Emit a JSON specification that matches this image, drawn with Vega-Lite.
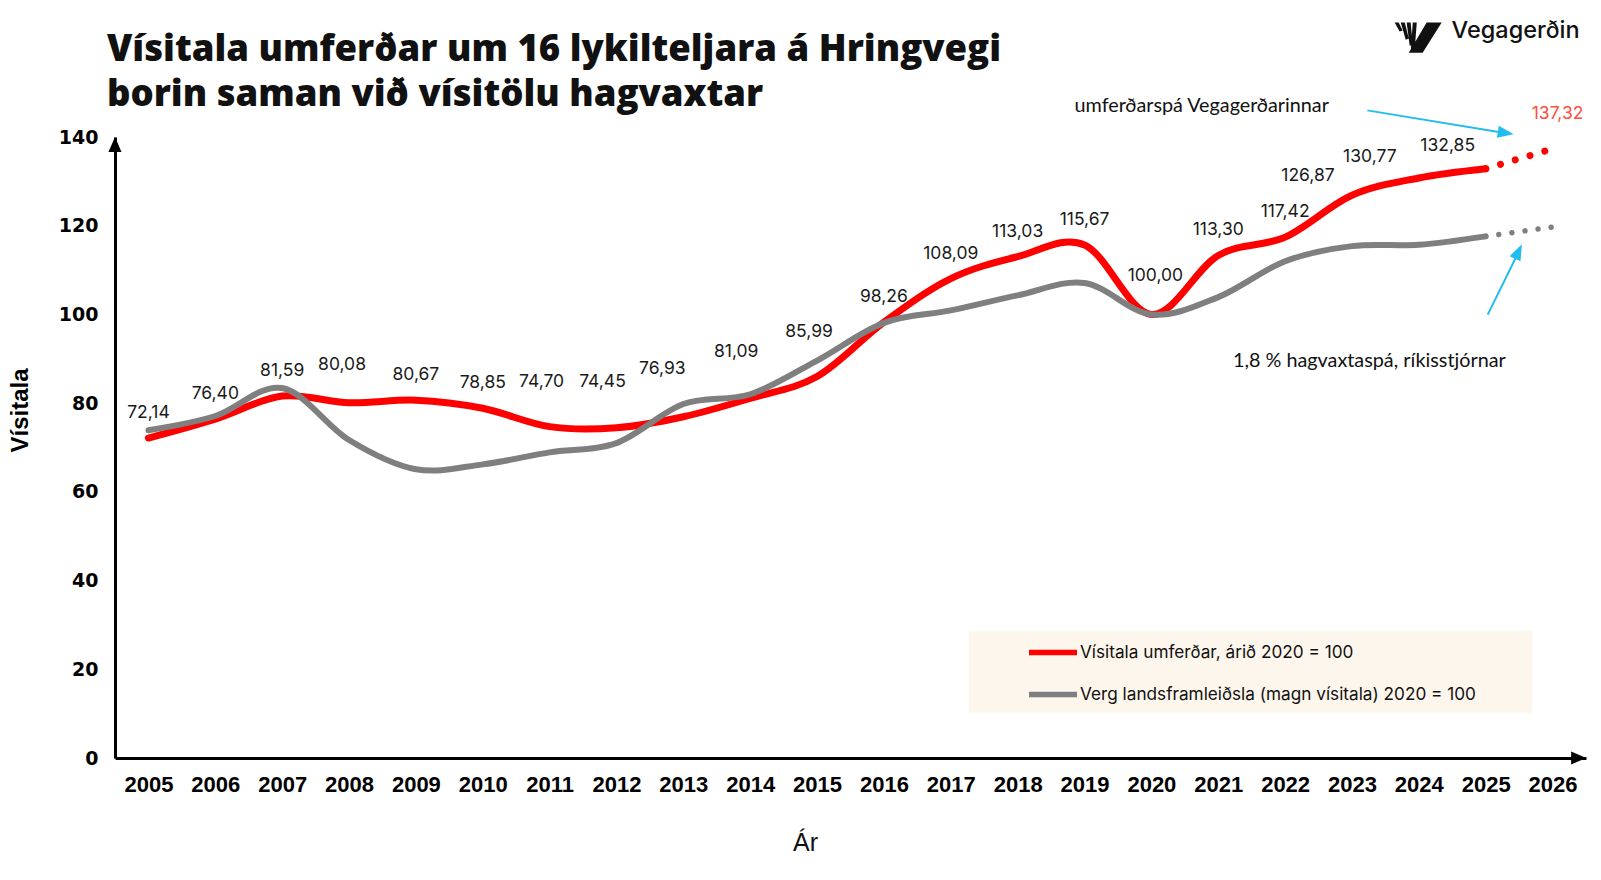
{
  "$schema": "https://vega.github.io/schema/vega-lite/v6.json",
  "width": 1471,
  "height": 621,
  "autosize": "none",
  "padding": {"left": 115, "top": 137, "right": 15, "bottom": 122},
  "background": "#ffffff",
  "title": {
    "text": ["Vísitala umferðar um 16 lykilteljara á Hringvegi", "borin saman við vísitölu hagvaxtar"],
    "anchor": "start",
    "frame": "group",
    "orient": "top",
    "font": "Open Sans",
    "fontWeight": 800,
    "fontSize": 36.5,
    "lineHeight": 45,
    "color": "#111111",
    "baseline": "alphabetic",
    "dx": -8,
    "offset": -123
  },
  "config": {
    "locale": {"number": {"decimal": ",", "thousands": ".", "grouping": [3], "currency": ["", " kr."]}},
    "view": {"stroke": null},
    "legend": {
      "orient": "none",
      "legendX": 911,
      "legendY": 488.5,
      "padding": 0,
      "symbolType": "stroke",
      "symbolSize": 2304,
      "symbolStrokeWidth": 5.5,
      "labelFont": "Inter",
      "labelFontSize": 17.2,
      "labelColor": "#111111",
      "labelOffset": 0,
      "labelLimit": 700,
      "rowPadding": 4
    }
  },
  "datasets": {
    "umferd": [
      {"year": 2005, "series": "Vísitala umferðar, árið 2020 = 100", "value": 72.14},
      {"year": 2006, "series": "Vísitala umferðar, árið 2020 = 100", "value": 76.40},
      {"year": 2007, "series": "Vísitala umferðar, árið 2020 = 100", "value": 81.59},
      {"year": 2008, "series": "Vísitala umferðar, árið 2020 = 100", "value": 80.08},
      {"year": 2009, "series": "Vísitala umferðar, árið 2020 = 100", "value": 80.67},
      {"year": 2010, "series": "Vísitala umferðar, árið 2020 = 100", "value": 78.85},
      {"year": 2011, "series": "Vísitala umferðar, árið 2020 = 100", "value": 74.70},
      {"year": 2012, "series": "Vísitala umferðar, árið 2020 = 100", "value": 74.45},
      {"year": 2013, "series": "Vísitala umferðar, árið 2020 = 100", "value": 76.93},
      {"year": 2014, "series": "Vísitala umferðar, árið 2020 = 100", "value": 81.09},
      {"year": 2015, "series": "Vísitala umferðar, árið 2020 = 100", "value": 85.99},
      {"year": 2016, "series": "Vísitala umferðar, árið 2020 = 100", "value": 98.26},
      {"year": 2017, "series": "Vísitala umferðar, árið 2020 = 100", "value": 108.09},
      {"year": 2018, "series": "Vísitala umferðar, árið 2020 = 100", "value": 113.03},
      {"year": 2019, "series": "Vísitala umferðar, árið 2020 = 100", "value": 115.67},
      {"year": 2020, "series": "Vísitala umferðar, árið 2020 = 100", "value": 100.00},
      {"year": 2021, "series": "Vísitala umferðar, árið 2020 = 100", "value": 113.30},
      {"year": 2022, "series": "Vísitala umferðar, árið 2020 = 100", "value": 117.42},
      {"year": 2023, "series": "Vísitala umferðar, árið 2020 = 100", "value": 126.87},
      {"year": 2024, "series": "Vísitala umferðar, árið 2020 = 100", "value": 130.77},
      {"year": 2025, "series": "Vísitala umferðar, árið 2020 = 100", "value": 132.85}
    ],
    "hagvoxtur": [
      {"year": 2005, "series": "Verg landsframleiðsla (magn vísitala) 2020 = 100", "value": 73.9},
      {"year": 2006, "series": "Verg landsframleiðsla (magn vísitala) 2020 = 100", "value": 77.1},
      {"year": 2007, "series": "Verg landsframleiðsla (magn vísitala) 2020 = 100", "value": 83.4},
      {"year": 2008, "series": "Verg landsframleiðsla (magn vísitala) 2020 = 100", "value": 71.7},
      {"year": 2009, "series": "Verg landsframleiðsla (magn vísitala) 2020 = 100", "value": 65.1},
      {"year": 2010, "series": "Verg landsframleiðsla (magn vísitala) 2020 = 100", "value": 66.2},
      {"year": 2011, "series": "Verg landsframleiðsla (magn vísitala) 2020 = 100", "value": 68.9},
      {"year": 2012, "series": "Verg landsframleiðsla (magn vísitala) 2020 = 100", "value": 71.0},
      {"year": 2013, "series": "Verg landsframleiðsla (magn vísitala) 2020 = 100", "value": 79.8},
      {"year": 2014, "series": "Verg landsframleiðsla (magn vísitala) 2020 = 100", "value": 82.0},
      {"year": 2015, "series": "Verg landsframleiðsla (magn vísitala) 2020 = 100", "value": 89.6},
      {"year": 2016, "series": "Verg landsframleiðsla (magn vísitala) 2020 = 100", "value": 98.1},
      {"year": 2017, "series": "Verg landsframleiðsla (magn vísitala) 2020 = 100", "value": 100.9},
      {"year": 2018, "series": "Verg landsframleiðsla (magn vísitala) 2020 = 100", "value": 104.3},
      {"year": 2019, "series": "Verg landsframleiðsla (magn vísitala) 2020 = 100", "value": 107.1},
      {"year": 2020, "series": "Verg landsframleiðsla (magn vísitala) 2020 = 100", "value": 100.0},
      {"year": 2021, "series": "Verg landsframleiðsla (magn vísitala) 2020 = 100", "value": 103.9},
      {"year": 2022, "series": "Verg landsframleiðsla (magn vísitala) 2020 = 100", "value": 112.0},
      {"year": 2023, "series": "Verg landsframleiðsla (magn vísitala) 2020 = 100", "value": 115.4},
      {"year": 2024, "series": "Verg landsframleiðsla (magn vísitala) 2020 = 100", "value": 115.7},
      {"year": 2025, "series": "Verg landsframleiðsla (magn vísitala) 2020 = 100", "value": 117.6}
    ],
    "spa_umferd": [
      {"year": 2025, "value": 132.85},
      {"year": 2026, "value": 137.32}
    ],
    "spa_hagvoxtur": [
      {"year": 2025, "value": 117.6},
      {"year": 2026, "value": 119.7}
    ]
  },
  "layer": [
    {
      "data": {"name": "umferd"},
      "mark": {"type": "line", "interpolate": "cardinal", "tension": 0, "strokeWidth": 7, "strokeCap": "round", "strokeJoin": "round"},
      "encoding": {
        "x": {
          "field": "year", "type": "quantitative", "title": "Ár",
          "scale": {"domain": [2004.5, 2026.5], "nice": false, "zero": false},
          "axis": {
            "values": [2005, 2006, 2007, 2008, 2009, 2010, 2011, 2012, 2013, 2014, 2015, 2016, 2017, 2018, 2019, 2020, 2021, 2022, 2023, 2024, 2025, 2026],
            "format": "d",
            "grid": false, "ticks": false, "tickSize": 0,
            "domainColor": "#000000", "domainWidth": 3,
            "labelFont": "Liberation Sans", "labelFontWeight": "bold", "labelFontSize": 22, "labelColor": "#000000",
            "labelPadding": 16, "labelOverlap": false, "labelFlush": false,
            "titleFont": "Liberation Sans", "titleFontWeight": "normal", "titleFontSize": 25, "titleColor": "#111111",
            "titleX": 690, "titleY": 84, "titleAlign": "center", "titleBaseline": "middle"
          }
        },
        "y": {
          "field": "value", "type": "quantitative", "title": "Vísitala",
          "scale": {"domain": [0, 140], "nice": false, "zero": true},
          "axis": {
            "values": [0, 20, 40, 60, 80, 100, 120, 140],
            "grid": false, "ticks": false, "tickSize": 0,
            "domainColor": "#000000", "domainWidth": 3,
            "labelFont": "DejaVu Sans", "labelFontWeight": "bold", "labelFontSize": 19, "labelColor": "#000000",
            "labelPadding": 17, "labelOverlap": false, "labelFlush": false,
            "titleFont": "Liberation Sans", "titleFontWeight": "bold", "titleFontSize": 24, "titleColor": "#000000",
            "titleAngle": -90, "titleX": -95, "titleY": 273, "titleAlign": "center", "titleBaseline": "middle"
          }
        },
        "color": {
          "field": "series", "type": "nominal",
          "scale": {
            "domain": ["Vísitala umferðar, árið 2020 = 100", "Verg landsframleiðsla (magn vísitala) 2020 = 100"],
            "range": ["#ff0000", "#7f7f7f"]
          },
          "legend": {"title": null}
        }
      }
    },
    {
      "data": {"name": "hagvoxtur"},
      "mark": {"type": "line", "interpolate": "cardinal", "tension": 0, "strokeWidth": 6, "strokeCap": "round", "strokeJoin": "round"},
      "encoding": {
        "x": {"field": "year", "type": "quantitative", "title": "Ár"},
        "y": {"field": "value", "type": "quantitative", "title": "Vísitala"},
        "color": {"field": "series", "type": "nominal", "legend": {"title": null}}
      }
    },
    {
      "data": {"name": "spa_umferd"},
      "mark": {"type": "line", "color": "#ff0000", "strokeWidth": 7, "strokeCap": "round", "strokeDash": [0.01, 15.4]},
      "encoding": {
        "x": {"field": "year", "type": "quantitative", "title": "Ár"},
        "y": {"field": "value", "type": "quantitative", "title": "Vísitala"}
      }
    },
    {
      "data": {"name": "spa_hagvoxtur"},
      "mark": {"type": "line", "color": "#7f7f7f", "strokeWidth": 5.5, "strokeCap": "round", "strokeDash": [0.01, 13.2]},
      "encoding": {
        "x": {"field": "year", "type": "quantitative", "title": "Ár"},
        "y": {"field": "value", "type": "quantitative", "title": "Vísitala"}
      }
    },
    {
      "data": {"values": [{"year": 2017.27, "year_til": 2025.70, "value": 10.2, "value_til": 28.7}]},
      "mark": {"type": "rect", "color": "#fdf6ec"},
      "encoding": {
        "x": {"field": "year", "type": "quantitative", "title": "Ár"},
        "x2": {"field": "year_til"},
        "y": {"field": "value", "type": "quantitative", "title": "Vísitala"},
        "y2": {"field": "value_til"}
      }
    },
    {
      "data": {"name": "umferd"},
      "transform": [{"filter": {"field": "year", "oneOf": [2005, 2006, 2007, 2009, 2010, 2016, 2017, 2018, 2019, 2021, 2022]}}],
      "mark": {"type": "text", "font": "Inter", "fontSize": 17.5, "color": "#1a1a1a", "baseline": "middle", "align": "center", "dx": 0, "dy": -25},
      "encoding": {
        "x": {"field": "year", "type": "quantitative", "title": "Ár"},
        "y": {"field": "value", "type": "quantitative", "title": "Vísitala"},
        "text": {"field": "value", "type": "quantitative", "format": ".2f"}
      }
    },
    {
      "data": {"name": "umferd"},
      "transform": [{"filter": {"field": "year", "oneOf": [2011, 2015]}}],
      "mark": {"type": "text", "font": "Inter", "fontSize": 17.5, "color": "#1a1a1a", "baseline": "middle", "align": "center", "dx": -8, "dy": -45},
      "encoding": {
        "x": {"field": "year", "type": "quantitative", "title": "Ár"},
        "y": {"field": "value", "type": "quantitative", "title": "Vísitala"},
        "text": {"field": "value", "type": "quantitative", "format": ".2f"}
      }
    },
    {
      "data": {"name": "umferd"},
      "transform": [{"filter": {"field": "year", "oneOf": [2012, 2014]}}],
      "mark": {"type": "text", "font": "Inter", "fontSize": 17.5, "color": "#1a1a1a", "baseline": "middle", "align": "center", "dx": -14, "dy": -46},
      "encoding": {
        "x": {"field": "year", "type": "quantitative", "title": "Ár"},
        "y": {"field": "value", "type": "quantitative", "title": "Vísitala"},
        "text": {"field": "value", "type": "quantitative", "format": ".2f"}
      }
    },
    {
      "data": {"name": "umferd"},
      "transform": [{"filter": {"field": "year", "oneOf": [2013]}}],
      "mark": {"type": "text", "font": "Inter", "fontSize": 17.5, "color": "#1a1a1a", "baseline": "middle", "align": "center", "dx": -21, "dy": -48},
      "encoding": {
        "x": {"field": "year", "type": "quantitative", "title": "Ár"},
        "y": {"field": "value", "type": "quantitative", "title": "Vísitala"},
        "text": {"field": "value", "type": "quantitative", "format": ".2f"}
      }
    },
    {
      "data": {"name": "umferd"},
      "transform": [{"filter": {"field": "year", "oneOf": [2008]}}],
      "mark": {"type": "text", "font": "Inter", "fontSize": 17.5, "color": "#1a1a1a", "baseline": "middle", "align": "center", "dx": -7, "dy": -38},
      "encoding": {
        "x": {"field": "year", "type": "quantitative", "title": "Ár"},
        "y": {"field": "value", "type": "quantitative", "title": "Vísitala"},
        "text": {"field": "value", "type": "quantitative", "format": ".2f"}
      }
    },
    {
      "data": {"name": "umferd"},
      "transform": [{"filter": {"field": "year", "oneOf": [2020]}}],
      "mark": {"type": "text", "font": "Inter", "fontSize": 17.5, "color": "#1a1a1a", "baseline": "middle", "align": "center", "dx": 4, "dy": -38},
      "encoding": {
        "x": {"field": "year", "type": "quantitative", "title": "Ár"},
        "y": {"field": "value", "type": "quantitative", "title": "Vísitala"},
        "text": {"field": "value", "type": "quantitative", "format": ".2f"}
      }
    },
    {
      "data": {"name": "umferd"},
      "transform": [{"filter": {"field": "year", "oneOf": [2023]}}],
      "mark": {"type": "text", "font": "Inter", "fontSize": 17.5, "color": "#1a1a1a", "baseline": "middle", "align": "center", "dx": -44, "dy": -19},
      "encoding": {
        "x": {"field": "year", "type": "quantitative", "title": "Ár"},
        "y": {"field": "value", "type": "quantitative", "title": "Vísitala"},
        "text": {"field": "value", "type": "quantitative", "format": ".2f"}
      }
    },
    {
      "data": {"name": "umferd"},
      "transform": [{"filter": {"field": "year", "oneOf": [2024]}}],
      "mark": {"type": "text", "font": "Inter", "fontSize": 17.5, "color": "#1a1a1a", "baseline": "middle", "align": "center", "dx": -49, "dy": -21},
      "encoding": {
        "x": {"field": "year", "type": "quantitative", "title": "Ár"},
        "y": {"field": "value", "type": "quantitative", "title": "Vísitala"},
        "text": {"field": "value", "type": "quantitative", "format": ".2f"}
      }
    },
    {
      "data": {"name": "umferd"},
      "transform": [{"filter": {"field": "year", "oneOf": [2025]}}],
      "mark": {"type": "text", "font": "Inter", "fontSize": 17.5, "color": "#1a1a1a", "baseline": "middle", "align": "center", "dx": -38, "dy": -23},
      "encoding": {
        "x": {"field": "year", "type": "quantitative", "title": "Ár"},
        "y": {"field": "value", "type": "quantitative", "title": "Vísitala"},
        "text": {"field": "value", "type": "quantitative", "format": ".2f"}
      }
    },
    {
      "data": {"name": "spa_umferd"},
      "transform": [{"filter": {"field": "year", "oneOf": [2026]}}],
      "mark": {"type": "text", "font": "Inter", "fontSize": 17.5, "color": "#ff4d40", "baseline": "middle", "align": "center", "dx": 5, "dy": -35},
      "encoding": {
        "x": {"field": "year", "type": "quantitative", "title": "Ár"},
        "y": {"field": "value", "type": "quantitative", "title": "Vísitala"},
        "text": {"field": "value", "type": "quantitative", "format": ".2f"}
      }
    },
    {
      "data": {"values": [{"year": 2004.5, "value": 138.3}]},
      "mark": {"type": "point", "shape": "M0,-1L0.87,1L-0.87,1Z", "size": 225, "filled": true, "color": "#000000", "opacity": 1, "angle": 0},
      "encoding": {
        "x": {"field": "year", "type": "quantitative", "title": "Ár"},
        "y": {"field": "value", "type": "quantitative", "title": "Vísitala"}
      }
    },
    {
      "data": {"values": [{"year": 2026.39, "value": 0}]},
      "mark": {"type": "point", "shape": "M0,-1L0.87,1L-0.87,1Z", "size": 225, "filled": true, "color": "#000000", "opacity": 1, "angle": 90},
      "encoding": {
        "x": {"field": "year", "type": "quantitative", "title": "Ár"},
        "y": {"field": "value", "type": "quantitative", "title": "Vísitala"}
      }
    },
    {
      "data": {"values": [
        {"year": 2023.23, "value": 146.0, "year_til": 2025.24, "value_til": 141.0},
        {"year": 2025.03, "value": 99.95, "year_til": 2025.47, "value_til": 113.4}
      ]},
      "mark": {"type": "rule", "color": "#22bdef", "strokeWidth": 2},
      "encoding": {
        "x": {"field": "year", "type": "quantitative", "title": "Ár"},
        "y": {"field": "value", "type": "quantitative", "title": "Vísitala"},
        "x2": {"field": "year_til"},
        "y2": {"field": "value_til"}
      }
    },
    {
      "data": {"values": [{"year": 2025.30, "value": 140.9}]},
      "mark": {"type": "point", "shape": "M0,-1L0.75,1L-0.75,1Z", "size": 256, "filled": true, "color": "#22bdef", "opacity": 1, "angle": 99.3},
      "encoding": {
        "x": {"field": "year", "type": "quantitative", "title": "Ár"},
        "y": {"field": "value", "type": "quantitative", "title": "Vísitala"}
      }
    },
    {
      "data": {"values": [{"year": 2025.49, "value": 114.2}]},
      "mark": {"type": "point", "shape": "M0,-1L0.75,1L-0.75,1Z", "size": 256, "filled": true, "color": "#22bdef", "opacity": 1, "angle": 25.1},
      "encoding": {
        "x": {"field": "year", "type": "quantitative", "title": "Ár"},
        "y": {"field": "value", "type": "quantitative", "title": "Vísitala"}
      }
    },
    {
      "data": {"values": [{"year": 2018.85, "value": 146.9, "texti": "umferðarspá Vegagerðarinnar"}]},
      "mark": {"type": "text", "font": "Lato", "fontSize": 19.8, "color": "#111111", "align": "left", "baseline": "middle"},
      "encoding": {
        "x": {"field": "year", "type": "quantitative", "title": "Ár"},
        "y": {"field": "value", "type": "quantitative", "title": "Vísitala"},
        "text": {"field": "texti"}
      }
    },
    {
      "data": {"values": [{"year": 2023.26, "value": 89.4, "texti": "1,8 % hagvaxtaspá, ríkisstjórnar"}]},
      "mark": {"type": "text", "font": "Lato", "fontSize": 19.8, "color": "#111111", "align": "center", "baseline": "middle"},
      "encoding": {
        "x": {"field": "year", "type": "quantitative", "title": "Ár"},
        "y": {"field": "value", "type": "quantitative", "title": "Vísitala"},
        "text": {"field": "texti"}
      }
    },
    {
      "data": {"values": [{"year": 2023.99, "value": 162.4}]},
      "mark": {
        "type": "point",
        "shape": "M-1,-0.64L-0.83,-0.64L-0.66,-0.3L-0.79,-0.26ZM-0.74,-0.64L-0.57,-0.64L-0.4,0.04L-0.53,0.09ZM-0.49,-0.64L-0.32,-0.64L-0.23,0.3L-0.36,0.34ZM-0.23,-0.64L-0.06,-0.64L-0.15,0.55L-0.32,0.64ZM0.36,-0.64L1,-0.64L0.19,0.64L-0.4,0.64Z",
        "size": 2209, "filled": true, "color": "#111111", "opacity": 1
      },
      "encoding": {
        "x": {"field": "year", "type": "quantitative", "title": "Ár"},
        "y": {"field": "value", "type": "quantitative", "title": "Vísitala"}
      }
    },
    {
      "data": {"values": [{"year": 2024.49, "value": 163.8, "texti": "Vegagerðin"}]},
      "mark": {"type": "text", "font": "Inter", "fontSize": 23.5, "fontWeight": 500, "color": "#111111", "align": "left", "baseline": "middle"},
      "encoding": {
        "x": {"field": "year", "type": "quantitative", "title": "Ár"},
        "y": {"field": "value", "type": "quantitative", "title": "Vísitala"},
        "text": {"field": "texti"}
      }
    }
  ]
}
